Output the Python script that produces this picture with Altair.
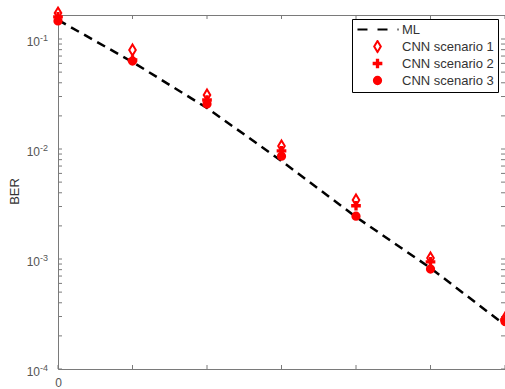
import altair as alt
import pandas as pd
import numpy as np

# ---- data ----
snr = [0, 2, 4, 6, 8, 10, 12]
ml = [0.149, 0.0618, 0.0236, 0.00778, 0.00241, 0.000828, 0.000251]
cnn1 = [0.172, 0.0794, 0.031, 0.01064, 0.00344, 0.00102, 0.00029]
cnn2 = [0.159, 0.0644, 0.0279, 0.0096, 0.00305, 0.00094, 0.00028]
cnn3 = [0.146, 0.063, 0.0256, 0.0086, 0.00245, 0.00081, 0.00027]
series_names = ["ML", "CNN scenario 1", "CNN scenario 2", "CNN scenario 3"]
y_label_values = [1e-4, 1e-3, 1e-2, 1e-1]
y_label_exps = ["-4", "-3", "-2", "-1"]
x_label_values = [0]
x_tick_values = [0, 2, 4, 6, 8, 10, 12]

W, H = 447, 354
YMIN = 1e-4
YMAX = 10 ** (-1 + 24 / 110)
GREY = "#7a7a7a"
FONT = "Liberation Sans"

ml_df = pd.DataFrame({"snr": snr, "ber": ml})
cnn_df = pd.DataFrame({
    "snr": snr * 3,
    "ber": cnn1 + cnn2 + cnn3,
    "series": [series_names[1]] * 7 + [series_names[2]] * 7 + [series_names[3]] * 7,
})

# minor/major y ticks within domain
yt = []
for k in range(-4, 0):
    for m in range(1, 10):
        v = m * 10.0 ** k
        if YMIN <= v <= YMAX:
            yt.append(v)
ytick_df = pd.DataFrame({"v": yt})
xtick_df = pd.DataFrame({"v": x_tick_values})
ylab_df = pd.DataFrame({"v": y_label_values, "e": y_label_exps})

xs = alt.Scale(domain=[0, 12], nice=False, zero=False)
ys = alt.Scale(type="log", domain=[YMIN, YMAX], nice=False)

XA = alt.Axis(values=x_label_values, ticks=False, domain=False, grid=False,
              labelPadding=8, labelFontSize=12, labelColor="#555555",
              labelFont=FONT, labelFlush=False, title=None)
YA = alt.Axis(labels=False, ticks=False, domain=False, grid=False,
              title="BER", titleFont=FONT, titleFontSize=13,
              titleFontWeight="normal", titleColor="#333333",
              titleX=-44, titleY=H / 2 - 1, titleAngle=-90, titleBaseline="middle")

# symbol paths (unit = sqrt(size)/2 = 5.5 px)
ml_path = "M-3.64,0L-1.82,0M0,0L1.82,0M3.64,0L3.82,0"
diamond_path = "M0,-1L0.6,0L0,1L-0.6,0Z"
plus_path = ("M-0.12,-0.7L0.12,-0.7L0.12,-0.12L0.7,-0.12L0.7,0.12L0.12,0.12L0.12,0.7"
             "L-0.12,0.7L-0.12,0.12L-0.7,0.12L-0.7,-0.12L-0.12,-0.12Z")
circle_path = "M-0.66,0A0.66,0.66 0 1,0 0.66,0A0.66,0.66 0 1,0 -0.66,0Z"

leg = alt.Legend(title=None, orient="none", legendX=294, legendY=4)

line = alt.Chart(ml_df).mark_line(color="black", strokeWidth=2.5, strokeDash=[9, 6]).encode(
    x=alt.X("snr:Q", scale=xs, axis=XA),
    y=alt.Y("ber:Q", scale=ys, axis=YA),
)

points = alt.Chart(cnn_df).mark_point(size=121, strokeWidth=2, opacity=1).encode(
    x=alt.X("snr:Q", scale=xs, axis=XA),
    y=alt.Y("ber:Q", scale=ys, axis=YA),
    shape=alt.Shape("series:N", scale=alt.Scale(domain=series_names,
                    range=[ml_path, diamond_path, plus_path, circle_path]), legend=leg),
    stroke=alt.Stroke("series:N", scale=alt.Scale(domain=series_names,
                      range=["black", "red", "red", "red"]), legend=leg),
    fill=alt.Fill("series:N", scale=alt.Scale(domain=series_names,
                  range=["transparent", "white", "red", "red"]), legend=leg),
)

left_ticks = alt.Chart(ytick_df).mark_rule(color=GREY, strokeWidth=1).encode(
    y=alt.Y("v:Q", scale=ys, axis=YA), x=alt.value(0), x2=alt.value(4))
right_ticks = alt.Chart(ytick_df).mark_rule(color=GREY, strokeWidth=1).encode(
    y=alt.Y("v:Q", scale=ys, axis=YA), x=alt.value(W - 4), x2=alt.value(W))
bottom_ticks = alt.Chart(xtick_df).mark_rule(color=GREY, strokeWidth=1).encode(
    x=alt.X("v:Q", scale=xs, axis=XA), y=alt.value(H), y2=alt.value(H - 4))
top_ticks = alt.Chart(xtick_df).mark_rule(color=GREY, strokeWidth=1).encode(
    x=alt.X("v:Q", scale=xs, axis=XA), y=alt.value(0), y2=alt.value(4))

ten = alt.Chart(ylab_df).mark_text(align="right", baseline="middle", dy=3, fontSize=12,
                                   font=FONT, color="#555555").encode(
    y=alt.Y("v:Q", scale=ys, axis=YA), x=alt.value(-18), text=alt.value("10"))
expo = alt.Chart(ylab_df).mark_text(align="left", baseline="middle", dy=-1, fontSize=9,
                                    font=FONT, color="#555555").encode(
    y=alt.Y("v:Q", scale=ys, axis=YA), x=alt.value(-18), text="e:N")

chart = alt.layer(left_ticks, right_ticks, bottom_ticks, top_ticks, ten, expo, line, points).properties(
    width=W, height=H,
    background="white",
    autosize=alt.AutoSizeParams(type="none"),
    padding={"left": 58, "top": 15, "right": 0, "bottom": 20},
).configure_view(stroke=GREY, strokeWidth=1).configure_legend(
    strokeColor="black", fillColor="white", padding=4, symbolOffset=15,
    labelOffset=18, labelFont=FONT, labelFontSize=13, labelColor="#333333",
    rowPadding=3, clipHeight=13, symbolSize=121, symbolStrokeWidth=2, cornerRadius=0,
    labelLimit=200,
)

chart.save("out.html", embed_options={"renderer": "svg", "actions": False})
